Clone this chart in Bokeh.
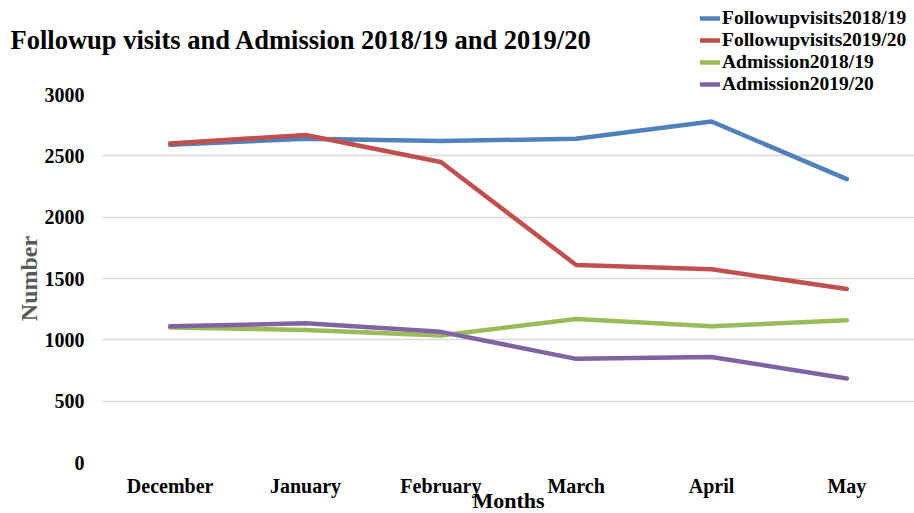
from bokeh.plotting import figure
from bokeh.models import Legend, LegendItem, FixedTicker, Range1d, Title
from bokeh.embed import file_html
from bokeh.resources import INLINE

months = ["December", "January", "February", "March", "April", "May"]
followup_2018_19 = [2590, 2640, 2620, 2640, 2780, 2310]
followup_2019_20 = [2600, 2670, 2450, 1610, 1575, 1415]
admission_2018_19 = [1100, 1080, 1035, 1170, 1110, 1160]
admission_2019_20 = [1110, 1135, 1065, 845, 860, 685]
series_names = ["Followupvisits2018/19", "Followupvisits2019/20", "Admission2018/19", "Admission2019/20"]
y_ticks = [0, 500, 1000, 1500, 2000, 2500, 3000]

colors = ["#4F81BD", "#C0504D", "#9BBB59", "#8064A2"]
FONT = "Liberation Serif"

p = figure(x_range=months, y_range=Range1d(0, 3000), frame_width=812, frame_height=368,
           output_backend="svg", toolbar_location=None,
           min_border_left=102, min_border_right=0, min_border_top=94, min_border_bottom=51)
p.title.text = "Followup visits and Admission 2018/19 and 2019/20"
p.title.text_font = FONT
p.title.text_font_size = "26.5px"
p.title.text_font_style = "bold"
p.title.text_color = "black"
p.title.align = "left"
p.title.offset = -92
p.title.standoff = 0
spacer = Title(text=" ", text_font_size="12px", standoff=24)
p.add_layout(spacer, "above")

p.outline_line_color = None
p.background_fill_color = "white"
p.border_fill_color = "white"
p.xgrid.grid_line_color = None
p.ygrid.grid_line_color = "#D9D9D9"
p.ygrid.grid_line_width = 1.5
p.yaxis.ticker = FixedTicker(ticks=y_ticks)

for ax in (p.xaxis[0], p.yaxis[0]):
    ax.axis_line_color = None
    ax.major_tick_line_color = None
    ax.minor_tick_line_color = None
    ax.major_tick_out = 0
    ax.major_tick_in = 0
    ax.major_label_text_font = FONT
    ax.major_label_text_font_style = "bold"
    ax.major_label_text_font_size = "20px"
    ax.major_label_text_color = "black"
    ax.axis_label_text_font = FONT
    ax.axis_label_text_font_style = "bold"

p.yaxis.major_label_standoff = 18
p.yaxis.axis_label = "Number"
p.yaxis.axis_label_text_font_size = "24px"
p.yaxis.axis_label_text_color = "#595959"
p.yaxis.axis_label_standoff = 0

p.xaxis.major_label_standoff = 12
p.xaxis.axis_label = "Months"
p.xaxis.axis_label_text_font_size = "22px"
p.xaxis.axis_label_text_color = "black"
p.xaxis.axis_label_standoff = -12

items = []
for name, vals, c in zip(series_names,
                         [followup_2018_19, followup_2019_20, admission_2018_19, admission_2019_20],
                         colors):
    r = p.line(months, vals, line_color=c, line_width=4.5, line_join="round", line_cap="round")
    items.append(LegendItem(label=name, renderers=[r]))

# legend sits in the right side panel (beyond the visible window) and is drawn back
# over the top-right corner, so it is not clipped to the plotting frame
legend = Legend(items=items, location=(-214, 367), orientation="vertical",
                label_text_font=FONT, label_text_font_style="bold", label_text_font_size="19.5px",
                label_text_color="black", glyph_width=20, glyph_height=20, label_height=20,
                label_standoff=2, spacing=0, padding=0, margin=0,
                border_line_color=None, background_fill_alpha=0)
p.add_layout(legend, "right")

open("out.html", "w").write(file_html(p, INLINE))
